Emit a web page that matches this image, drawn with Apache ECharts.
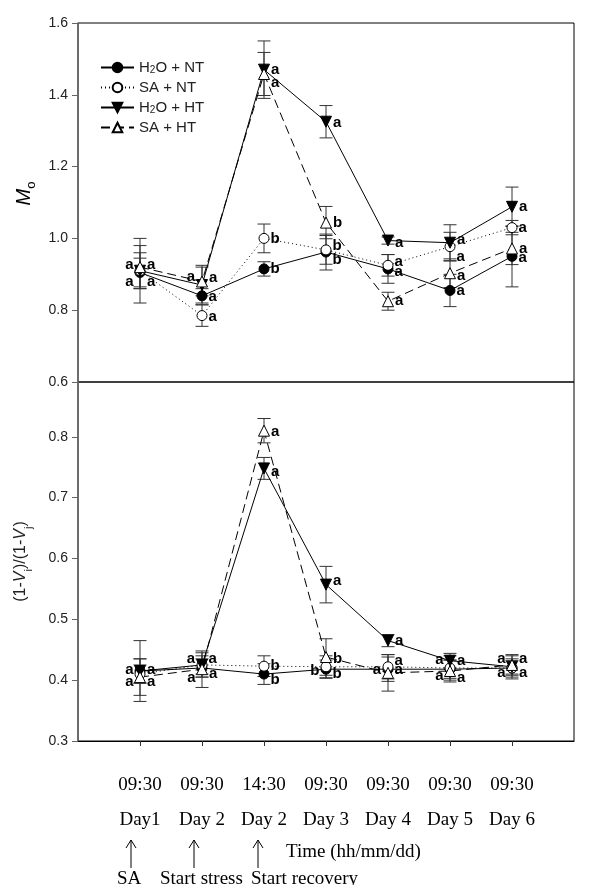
<!DOCTYPE html>
<html><head><meta charset="utf-8">
<script src="https://cdn.jsdelivr.net/npm/echarts@6/dist/echarts.min.js"></script>
<style>html,body{margin:0;padding:0;background:#fff}#c{width:600px;height:885px}</style>
</head><body><div id="c"></div>
<script>
// ---- data ----
const times = ['09:30','09:30','14:30','09:30','09:30','09:30','09:30'];
const days = ['Day1','Day 2','Day 2','Day 3','Day 4','Day 5','Day 6'];
const seriesNames = ['H2O + NT','SA + NT','H2O + HT','SA + HT'];

// Mo (top panel)
const moH2ONT = [0.905, 0.84, 0.915, 0.962, 0.915, 0.855, 0.95];
const moH2ONTErr = [0.04, 0.02, 0.02, 0.05, 0.04, 0.045, 0.085];
const moSANT = [0.91, 0.785, 1.0, 0.968, 0.925, 0.977, 1.03];
const moSANTErr = [0.05, 0.03, 0.04, 0.04, 0.03, 0.04, 0.02];
const moH2OHT = [0.91, 0.87, 1.47, 1.325, 0.994, 0.988, 1.088];
const moH2OHTErr = [0.09, 0.055, 0.08, 0.045, 0.01, 0.05, 0.055];
const moSAHT = [0.92, 0.88, 1.458, 1.044, 0.825, 0.903, 0.972];
const moSAHTErr = [0.06, 0.04, 0.06, 0.045, 0.025, 0.04, 0.045];

// (1-Vi)/(1-Vj) (bottom panel)
const vH2ONT = [0.415, 0.42, 0.41, 0.418, 0.418, 0.418, 0.42];
const vH2ONTErr = [0.02, 0.015, 0.017, 0.015, 0.02, 0.015, 0.012];
const vSANT = [0.41, 0.425, 0.423, 0.422, 0.422, 0.42, 0.42];
const vSANTErr = [0.015, 0.015, 0.017, 0.018, 0.02, 0.02, 0.015];
const vH2OHT = [0.415, 0.425, 0.748, 0.557, 0.465, 0.432, 0.422];
const vH2OHTErr = [0.05, 0.02, 0.018, 0.03, 0.01, 0.012, 0.02];
const vSAHT = [0.405, 0.418, 0.81, 0.438, 0.412, 0.415, 0.425];
const vSAHTErr = [0.03, 0.03, 0.02, 0.03, 0.03, 0.018, 0.015];

// significance letters
const moLetters = [
  ['a','a','b','b','a','a','a'],
  ['a','a','b','b','a','a','a'],
  ['a','a','a','a','a','a','a'],
  ['a','a','a','b','a','a','a']
];
const vLetters = [
  ['a','a','b','b','a','a','a'],
  ['a','a','b','b','a','a','a'],
  ['a','a','a','a','a','a','a'],
  ['a','a','a','b','a','a','a']
];
const moTicks = [0.6, 0.8, 1.0, 1.2, 1.4, 1.6];
const vTicks = [0.3, 0.4, 0.5, 0.6, 0.7, 0.8];

// ---- layout of the letter labels (side, vertical shift in px) ----
const moPlace = [
  [['l',-8],['r',1],['r',0],['r',8],['r',3],['r',0],['r',2]],
  [['l',11],['r',1],['r',0],['r',-4],['r',-3],['r',10],['r',0]],
  [['r',11],['l',-8],['r',0],['r',1],['r',2],['r',-3],['r',0]],
  [['r',-2],['r',-4],['r',9],['r',0],['r',0],['r',3],['r',0]]
];
const vPlace = [
  [['l',-1],['l',10],['r',6],['r',5],['r',1],['l',7],['l',5]],
  [['l',8],['r',-6],['r',0],['l',4],['r',-6],['l',-8],['l',-9]],
  [['r',-1],['l',-6],['r',3],['r',-4],['r',0],['r',0],['r',-8]],
  [['r',5],['r',5],['r',1],['r',2],['l',-3],['r',7],['r',8]]
];

const SANS = 'Arial, "Liberation Sans", sans-serif';
const SERIF = '"Times New Roman", "Liberation Serif", serif';

const styles = [
  {symbol:'circle', rotate:0, size:10, fill:'#000', line:'solid'},
  {symbol:'circle', rotate:0, size:10, fill:'#fff', line:[1,3]},
  {symbol:'triangle', rotate:180, size:11, fill:'#000', line:'solid'},
  {symbol:'triangle', rotate:0, size:11, fill:'#fff', line:[9,5]}
];

const moVals = [moH2ONT, moSANT, moH2OHT, moSAHT];
const moErrs = [moH2ONTErr, moSANTErr, moH2OHTErr, moSAHTErr];
const vVals = [vH2ONT, vSANT, vH2OHT, vSAHT];
const vErrs = [vH2ONTErr, vSANTErr, vH2OHTErr, vSAHTErr];

function errSeries(vals, errs, gi) {
  return {
    type: 'custom', xAxisIndex: gi, yAxisIndex: gi, z: 1, silent: true,
    data: vals.map((v, i) => [i, v, errs[i]]),
    renderItem: function (params, api) {
      const x = api.value(0), y = api.value(1), e = api.value(2);
      const t = api.coord([x, y + e]), b = api.coord([x, y - e]);
      const w = 6.5, st = {stroke: '#333', lineWidth: 1};
      return {type: 'group', children: [
        {type: 'line', shape: {x1: t[0], y1: t[1], x2: b[0], y2: b[1]}, style: st},
        {type: 'line', shape: {x1: t[0]-w, y1: t[1], x2: t[0]+w, y2: t[1]}, style: st},
        {type: 'line', shape: {x1: b[0]-w, y1: b[1], x2: b[0]+w, y2: b[1]}, style: st}
      ]};
    }
  };
}

function lineSeries(k, vals, letters, place, gi) {
  const s = styles[k];
  return {
    type: 'line', name: seriesNames[k], xAxisIndex: gi, yAxisIndex: gi, z: 3,
    symbol: s.symbol, symbolSize: s.size, symbolRotate: s.rotate,
    itemStyle: {color: s.fill, borderColor: '#000', borderWidth: 1},
    lineStyle: {color: '#000', width: 1, type: s.line},
    emphasis: {disabled: true}, animation: false,
    data: vals.map((v, i) => ({
      value: [i, v],
      label: {
        show: true, formatter: letters[i],
        position: place[i][0] === 'l' ? 'left' : 'right',
        distance: 1, offset: [0, place[i][1]],
        fontFamily: SANS, fontWeight: 'bold', fontSize: 15, color: '#000'
      }
    }))
  };
}

const series = [];
for (let k = 0; k < 4; k++) series.push(errSeries(moVals[k], moErrs[k], 0));
for (let k = 0; k < 4; k++) series.push(errSeries(vVals[k], vErrs[k], 1));
for (let k = 0; k < 4; k++) series.push(lineSeries(k, moVals[k], moLetters[k], moPlace[k], 0));
for (let k = 0; k < 4; k++) series.push(lineSeries(k, vVals[k], vLetters[k], vPlace[k], 1));

const axisLabelStyle = {fontFamily: SANS, fontSize: 14, color: '#222', margin: 10};

function arrow(x) {
  return {type: 'group', children: [
    {type: 'line', shape: {x1: x, y1: 840, x2: x, y2: 868}, style: {stroke: '#000', lineWidth: 1}},
    {type: 'polyline', shape: {points: [[x-5, 848], [x, 840], [x+5, 848]]}, style: {stroke: '#000', lineWidth: 1, fill: null}}
  ]};
}
function txt(x, y, s) {
  return {type: 'text', x: x, y: y, style: {text: s, font: '19px ' + SERIF, fill: '#000', textVerticalAlign: 'middle'}};
}

const option = {
  animation: false,
  backgroundColor: '#fff',
  grid: [
    {left: 78, top: 23, width: 496, height: 359, show: true, borderColor: '#000', borderWidth: 1, backgroundColor: 'transparent'},
    {left: 78, top: 382, width: 496, height: 359, show: true, borderColor: '#000', borderWidth: 1, backgroundColor: 'transparent'}
  ],
  legend: {
    data: seriesNames, orient: 'vertical', left: 95, top: 55,
    itemWidth: 33, itemHeight: 12, itemGap: 5,
    formatter: n => n.replace('H2O', 'H{s|2}O'),
    textStyle: {fontFamily: SANS, fontSize: 15, color: '#222',
      rich: {s: {fontFamily: SANS, fontSize: 10, verticalAlign: 'bottom', lineHeight: 10, color: '#222'}}},
    selectedMode: false
  },
  xAxis: [
    {type: 'value', gridIndex: 0, min: -1, max: 7, interval: 1,
     axisLine: {show: false}, axisTick: {show: false}, axisLabel: {show: false}, splitLine: {show: false}},
    {type: 'value', gridIndex: 1, min: -1, max: 7, interval: 1,
     axisLine: {show: true, onZero: false, lineStyle: {color: '#000', width: 1}},
     axisTick: {show: true, length: 5, inside: false, customValues: [0,1,2,3,4,5,6], lineStyle: {color: '#333'}},
     axisLabel: {show: true, customValues: [0,1,2,3,4,5,6], margin: 27,
       formatter: v => '{t|' + times[v] + '}\n{d|' + days[v] + '}',
       rich: {t: {fontFamily: SERIF, fontSize: 19, lineHeight: 35, color: '#000'},
              d: {fontFamily: SERIF, fontSize: 19, lineHeight: 35, color: '#000'}}},
     splitLine: {show: false}}
  ],
  yAxis: [
    {type: 'value', gridIndex: 0, min: 0.6, max: 1.6, interval: 0.2,
     axisLine: {show: true, onZero: false, lineStyle: {color: '#666', width: 1.5}},
     axisTick: {show: true, length: 6, customValues: moTicks, lineStyle: {color: '#666'}},
     axisLabel: Object.assign({customValues: moTicks, formatter: v => v.toFixed(1)}, axisLabelStyle),
     splitLine: {show: false},
     name: '{m|M}{o|o}', nameLocation: 'middle', nameRotate: 90, nameGap: 38,
     nameTextStyle: {padding: [0, 0, 0, 18], rich: {
       m: {fontFamily: SANS, fontStyle: 'italic', fontSize: 20, lineHeight: 26, verticalAlign: 'middle', color: '#000'},
       o: {fontFamily: SANS, fontSize: 13, lineHeight: 12, verticalAlign: 'bottom', color: '#000'}}}},
    {type: 'value', gridIndex: 1, min: 0.3, max: 0.89, interval: 0.1,
     axisLine: {show: true, onZero: false, lineStyle: {color: '#666', width: 1.5}},
     axisTick: {show: true, length: 6, customValues: vTicks, lineStyle: {color: '#666'}},
     axisLabel: Object.assign({customValues: vTicks, formatter: v => v.toFixed(1)}, axisLabelStyle),
     splitLine: {show: false},
     name: '{n|(1-}{i|V}{s|i}{n|)/(1-}{i|V}{s|j}{n|)}', nameLocation: 'middle', nameRotate: 90, nameGap: 44,
     nameTextStyle: {rich: {
       n: {fontFamily: SANS, fontSize: 16, lineHeight: 26, verticalAlign: 'middle', color: '#222'},
       i: {fontFamily: SANS, fontStyle: 'italic', fontSize: 16, lineHeight: 26, verticalAlign: 'middle', color: '#222'},
       s: {fontFamily: SANS, fontSize: 11, lineHeight: 11, verticalAlign: 'bottom', color: '#222'}}}}
  ],
  graphic: [
    arrow(131), arrow(194), arrow(258),
    txt(286, 852, 'Time (hh/mm/dd)'),
    txt(117, 879, 'SA'),
    txt(160, 879, 'Start stress'),
    txt(251, 879, 'Start recovery')
  ],
  series: series
};

const chart = echarts.init(document.getElementById('c'), null, {renderer: 'canvas'});
chart.setOption(option);
</script>
</body></html>
